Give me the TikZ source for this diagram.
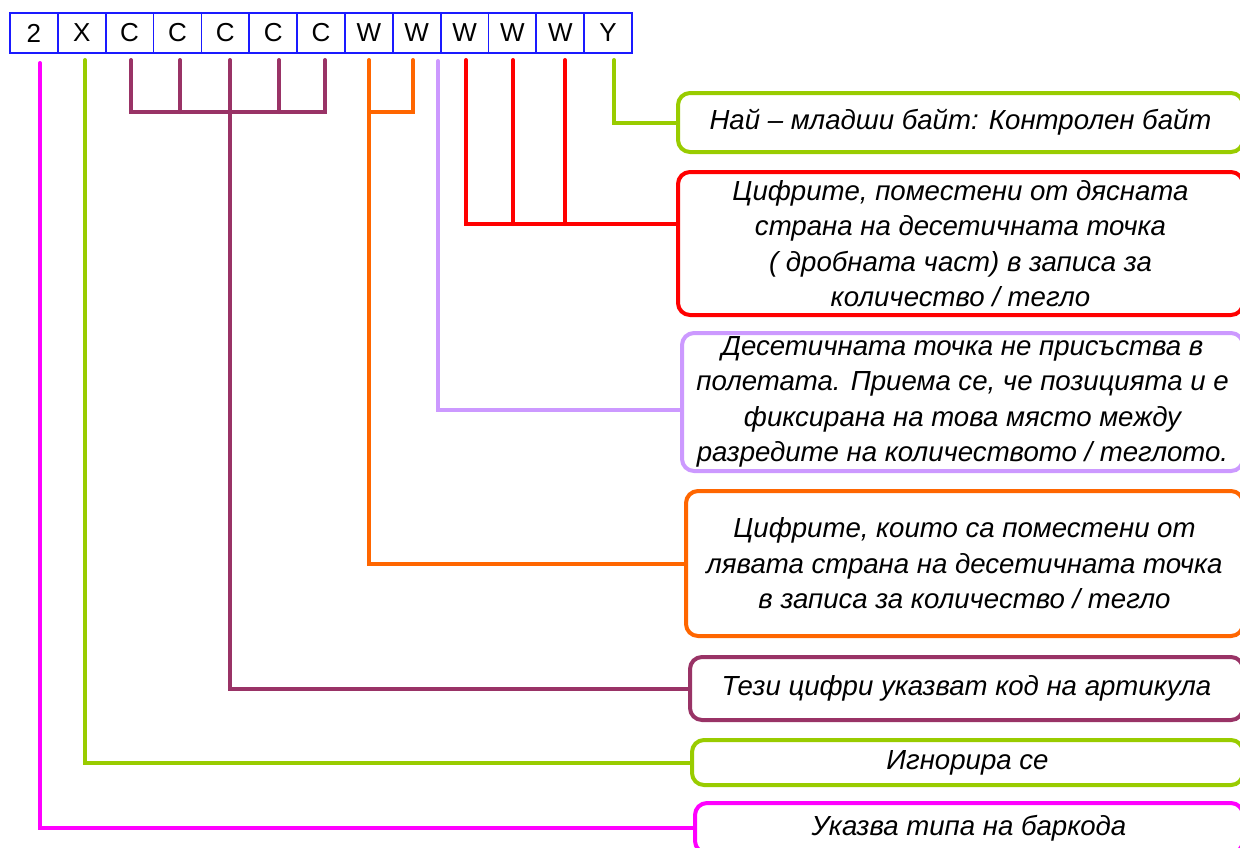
\documentclass[tikz,border=0pt]{standalone}
\usepackage{fontspec}
\setmainfont{Liberation Sans}
\definecolor{bluebox}{HTML}{1A1AFF}
\definecolor{pinkc}{HTML}{FF00FF}
\definecolor{lgreen}{HTML}{99CC00}
\definecolor{purp}{HTML}{993366}
\definecolor{orangec}{HTML}{FF6600}
\definecolor{lav}{HTML}{CC99FF}
\definecolor{redc}{HTML}{FF0000}
\begin{document}
\begin{tikzpicture}[x=1pt,y=-1pt,
  digit/.style={draw=bluebox, line width=1.8pt, minimum width=47.85pt, minimum height=40pt, inner sep=0pt, font=\fontsize{26}{30}\selectfont},
  lbl/.style={rounded corners=12pt, line width=4pt, fill=white, anchor=west, align=center, inner sep=2pt, font=\fontsize{27.6}{35.5}\selectfont\itshape},
  conn/.style={line width=4pt, line cap=round, line join=miter}
]
\useasboundingbox (0,0) rectangle (1240,847);
% top row
\node[digit] (b1) at (33.93,33) {2};
\node[digit] (b2) at (81.78,33) {X};
\node[digit] (b3) at (129.63,33) {C};
\node[digit] (b4) at (177.48,33) {C};
\node[digit] (b5) at (225.33,33) {C};
\node[digit] (b6) at (273.18,33) {C};
\node[digit] (b7) at (321.03,33) {C};
\node[digit] (b8) at (368.88,33) {W};
\node[digit] (b9) at (416.73,33) {W};
\node[digit] (b10) at (464.58,33) {W};
\node[digit] (b11) at (512.43,33) {W};
\node[digit] (b12) at (560.28,33) {W};
\node[digit] (b13) at (608.13,33) {Y};
% label boxes
\node[lbl, draw=lgreen, minimum width=565pt, minimum height=59pt] (t1) at (676,122.5) {Най – младши байт: Контролен байт};
\node[lbl, draw=redc, minimum width=565pt, minimum height=143pt] (t2) at (676,243.5) {Цифрите, поместени от дясната\\страна на десетичната точка\\( дробната част) в записа за\\количество / тегло};
\node[lbl, draw=lav, minimum width=561pt, minimum height=138pt] (t3) at (680,402) {Десетичната точка не присъства в\\полетата. Приема се, че позицията и е\\фиксирана на това място между\\разредите на количеството / теглото.};
\node[lbl, draw=orangec, minimum width=557pt, minimum height=145pt] (t4) at (684,563.5) {Цифрите, които са поместени от\\лявата страна на десетичната точка\\в записа за количество / тегло};
\node[lbl, draw=purp, minimum width=553pt, minimum height=63pt] (t5) at (688,688.5) {Тези цифри указват код на артикула};
\node[lbl, draw=lgreen, minimum width=551pt, minimum height=45pt] (t6) at (690,762.5) {Игнорира се};
\node[lbl, draw=pinkc, minimum width=548pt, minimum height=50pt] (t7) at (693,828) {Указва типа на баркода};
% connector start points
\coordinate (s1) at (40,63);
\coordinate (s2) at (85,60);
\coordinate (c1) at (131,60);
\coordinate (c2) at (180,60);
\coordinate (c3) at (230,60);
\coordinate (c4) at (279,60);
\coordinate (c5) at (325,60);
\coordinate (o1) at (369,60);
\coordinate (o2) at (413,60);
\coordinate (l1) at (438,61);
\coordinate (r1) at (466,60);
\coordinate (r2) at (513,60);
\coordinate (r3) at (565,60);
\coordinate (y1) at (614,60);
\coordinate (cb) at (0,112);
\coordinate (rj) at ([yshift=19.5pt]t2.west);
\coordinate (lj) at ([yshift=-8pt]t3.west);
% connectors
\draw[conn, pinkc] (s1) |- (t7.west);
\draw[conn, lgreen] (s2) |- (t6.west);
\draw[conn, purp] (c1) -- (c1|-cb) -- (c5|-cb) -- (c5);
\draw[conn, purp] (c2) -- (c2|-cb);
\draw[conn, purp] (c4) -- (c4|-cb);
\draw[conn, purp] (c3) |- (t5.west);
\draw[conn, orangec] (o2) -- (o2|-cb) -- (o1|-cb);
\draw[conn, orangec] (o1) |- (t4.west);
\draw[conn, lav] (l1) |- (lj);
\draw[conn, redc] (r1) |- (rj);
\draw[conn, redc] (r2) -- (r2|-rj);
\draw[conn, redc] (r3) -- (r3|-rj);
\draw[conn, lgreen] (y1) |- (t1.west);
\end{tikzpicture}
\end{document}
